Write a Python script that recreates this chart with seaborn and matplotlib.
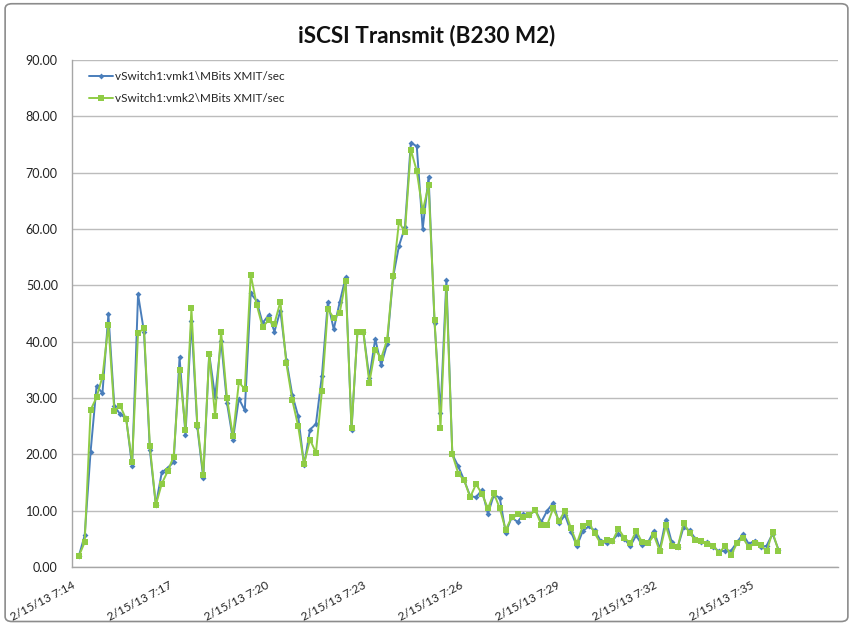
import pandas as pd
import matplotlib
matplotlib.use('Agg')
import matplotlib.pyplot as plt
import matplotlib.dates as mdates
from matplotlib.patches import FancyBboxPatch
import seaborn as sns

# esxtop samples, one every ~11 s, starting 7:14:13
start_time = '2013-02-15 07:14:13'
sample_step = '11s'

vmk1_mbits = [
    1.9, 5.6, 20.5, 32.1, 30.9, 44.9, 28.6, 27.1, 26.4, 17.9,
    48.4, 41.8, 20.7, 11.0, 16.8, 17.6, 18.6, 37.2, 23.5, 43.7,
    24.8, 15.8, 37.8, 30.2, 40.2, 29.1, 22.6, 29.9, 27.8, 48.6,
    47.2, 43.3, 44.7, 41.8, 45.5, 36.8, 30.6, 26.8, 18.1, 24.4,
    25.4, 33.9, 47.0, 42.2, 47.0, 51.4, 24.4, 41.8, 41.7, 33.6,
    40.5, 35.8, 39.6, 51.4, 57.0, 60.3, 75.3, 74.7, 60.0, 69.3,
    43.3, 27.3, 51.0, 20.0, 17.9, 15.4, 12.6, 12.4, 13.7, 9.4,
    12.8, 12.3, 6.1, 8.8, 8.0, 9.4, 9.2, 10.1, 8.0, 10.0,
    11.4, 7.8, 9.2, 6.3, 3.7, 6.4, 7.2, 6.5, 4.7, 4.2,
    4.7, 5.9, 5.0, 3.7, 5.6, 3.9, 4.4, 6.4, 3.2, 8.4,
    4.4, 3.5, 7.1, 6.5, 5.0, 4.5, 4.4, 3.5, 2.8, 2.9,
    2.9, 4.4, 5.8, 4.1, 4.7, 3.5, 3.8, 5.9, 3.1,
]

vmk2_mbits = [
    1.9, 4.4, 27.9, 30.1, 33.8, 42.9, 27.7, 28.6, 26.2, 18.6,
    41.5, 42.4, 21.4, 11.0, 14.8, 17.0, 19.6, 34.9, 24.4, 45.9,
    25.2, 16.4, 37.8, 26.8, 41.8, 30.0, 23.2, 32.8, 31.6, 51.9,
    46.6, 42.6, 43.8, 43.2, 47.1, 36.2, 29.7, 25.0, 18.3, 22.6,
    20.3, 31.2, 45.8, 44.2, 45.1, 50.7, 24.7, 41.8, 41.7, 32.7,
    38.6, 37.1, 40.3, 51.6, 61.3, 59.4, 74.1, 70.3, 63.2, 67.8,
    43.9, 24.7, 49.5, 20.0, 16.6, 15.4, 12.4, 14.7, 13.0, 10.4,
    13.1, 10.4, 6.6, 8.8, 9.4, 8.8, 9.2, 10.1, 7.5, 7.5,
    10.4, 8.2, 10.0, 6.9, 4.2, 7.3, 7.9, 6.0, 4.2, 4.8,
    4.6, 6.8, 5.2, 4.2, 6.4, 4.4, 4.2, 5.6, 2.8, 7.4,
    3.8, 3.5, 7.9, 6.0, 4.8, 4.7, 4.0, 3.8, 2.5, 3.8,
    2.1, 4.2, 5.2, 3.5, 4.2, 3.9, 2.8, 6.2, 2.9,
]

tick_times = ['07:14', '07:17', '07:20', '07:23', '07:26', '07:29', '07:32', '07:35']
tick_labels = ['2/15/13 7:14', '2/15/13 7:17', '2/15/13 7:20', '2/15/13 7:23',
               '2/15/13 7:26', '2/15/13 7:29', '2/15/13 7:32', '2/15/13 7:35']

serie1 = 'vSwitch1:vmk1\\MBits XMIT/sec'
serie2 = 'vSwitch1:vmk2\\MBits XMIT/sec'

tempo = pd.date_range(start_time, periods=len(vmk1_mbits), freq=sample_step)
df = pd.DataFrame({'tempo': tempo, serie1: vmk1_mbits, serie2: vmk2_mbits})

sns.set_theme(style='white')
plt.rcParams['font.family'] = ['Lato', 'DejaVu Sans']

fig = plt.figure(figsize=(8.53, 6.24), dpi=100)
ax = fig.add_axes([0.0841, 0.0913, 0.8987, 0.8125])

# moldura cinza do grafico do excel
fig.patches.append(FancyBboxPatch((0.006, 0.004), 0.988, 0.99, boxstyle='round,pad=0,rounding_size=0.008',
                                  transform=fig.transFigure, facecolor='none',
                                  edgecolor='#8c8c8c', linewidth=1.2))

azul = '#4a7ebb'
verde = '#8fcc45'

sns.lineplot(data=df, x='tempo', y=serie1, ax=ax, color=azul, linewidth=1.4,
             marker='D', markersize=3, markeredgewidth=0, label=serie1)
sns.lineplot(data=df, x='tempo', y=serie2, ax=ax, color=verde, linewidth=1.4,
             marker='s', markersize=4.3, markeredgewidth=0, label=serie2)

ax.set_ylim(0, 90)
ax.set_yticks(range(0, 91, 10))
ax.yaxis.set_major_formatter(plt.FuncFormatter(lambda v, p: f'{v:.2f}'))

dia = '2013-02-15 '
ax.set_xlim(pd.Timestamp(dia + '07:14:00'), pd.Timestamp(dia + '07:37:42'))
ax.set_xticks([mdates.date2num(pd.Timestamp(dia + t)) for t in tick_times])
ax.set_xticklabels(tick_labels, rotation=28, ha='right', rotation_mode='anchor')

ax.set_xlabel('')
ax.set_ylabel('')
fig.suptitle('iSCSI Transmit (B230 M2)', x=0.5, y=0.943, va='center',
             fontsize=16.2, fontweight='bold', color='#111111')

ax.grid(axis='y', color='#bcbcbc', linewidth=1.0)
ax.grid(axis='x', visible=False)
for lado in ['top', 'right']:
    ax.spines[lado].set_visible(False)
for lado in ['left', 'bottom']:
    ax.spines[lado].set_color('#a6a6a6')
    ax.spines[lado].set_linewidth(1.0)
ax.tick_params(axis='both', colors='#a6a6a6', labelcolor='#222222',
               direction='out', length=4, width=1)
ax.tick_params(axis='y', pad=6, labelsize=9)
ax.tick_params(axis='x', pad=5, labelsize=8.5)

ax.legend(loc='upper left', bbox_to_anchor=(0.009, 1.0), frameon=False, fontsize=8.5,
          handlelength=2.0, labelspacing=0.95, handletextpad=0.15)

plt.savefig('out.png', dpi=100)
